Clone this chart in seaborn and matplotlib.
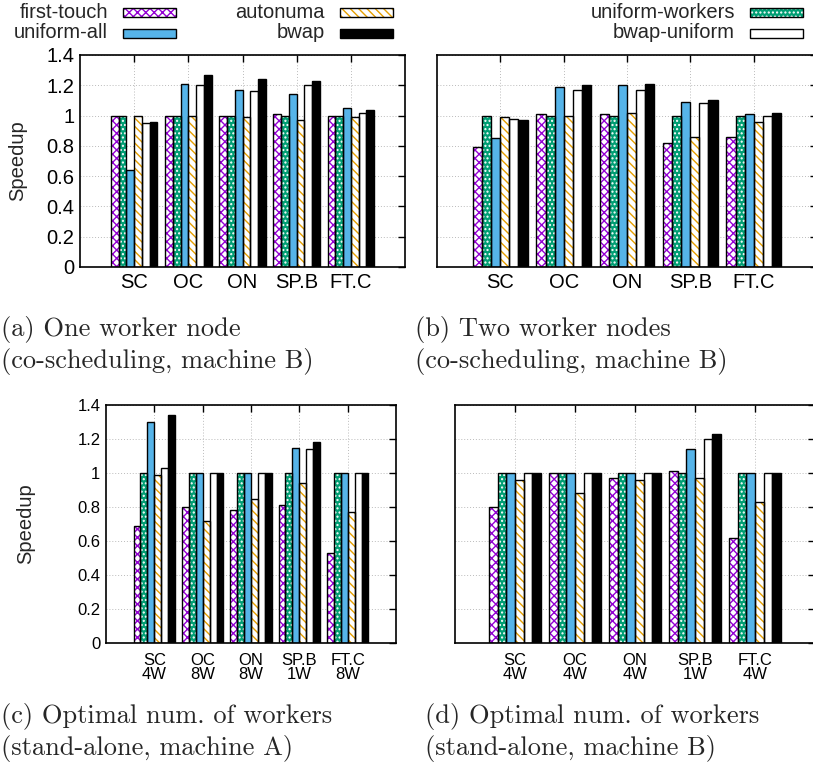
import numpy as np
import pandas as pd
import matplotlib
matplotlib.use("Agg")
import matplotlib.pyplot as plt
from matplotlib.patches import Rectangle
from matplotlib.ticker import FuncFormatter, MultipleLocator
import seaborn as sns

# ---------------- data ----------------
methods = ["first-touch", "uniform-workers", "uniform-all", "autonuma", "bwap-uniform", "bwap"]
apps_ab = ["SC", "OC", "ON", "SP.B", "FT.C"]
apps_c = ["SC\n4W", "OC\n8W", "ON\n8W", "SP.B\n1W", "FT.C\n8W"]
apps_d = ["SC\n4W", "OC\n4W", "ON\n4W", "SP.B\n1W", "FT.C\n4W"]

# (a) one worker node (co-scheduling, machine B)
a_first_touch = [1.00, 1.00, 1.00, 1.01, 1.00]
a_uniform_workers = [1.00, 1.00, 1.00, 1.00, 1.00]
a_uniform_all = [0.64, 1.21, 1.17, 1.14, 1.05]
a_autonuma = [1.00, 1.00, 0.99, 0.97, 0.99]
a_bwap_uniform = [0.95, 1.20, 1.16, 1.20, 1.02]
a_bwap = [0.96, 1.27, 1.24, 1.23, 1.04]

# (b) two worker nodes (co-scheduling, machine B)
b_first_touch = [0.79, 1.01, 1.01, 0.82, 0.86]
b_uniform_workers = [1.00, 1.00, 1.00, 1.00, 1.00]
b_uniform_all = [0.85, 1.19, 1.20, 1.09, 1.01]
b_autonuma = [0.99, 1.00, 1.02, 0.86, 0.96]
b_bwap_uniform = [0.98, 1.17, 1.17, 1.08, 1.00]
b_bwap = [0.97, 1.20, 1.21, 1.10, 1.02]

# (c) optimal num. of workers (stand-alone, machine A)
c_first_touch = [0.69, 0.80, 0.78, 0.81, 0.53]
c_uniform_workers = [1.00, 1.00, 1.00, 1.00, 1.00]
c_uniform_all = [1.30, 1.00, 1.00, 1.15, 1.00]
c_autonuma = [0.99, 0.72, 0.85, 0.94, 0.77]
c_bwap_uniform = [1.03, 1.00, 1.00, 1.14, 1.00]
c_bwap = [1.34, 1.00, 1.00, 1.18, 1.00]

# (d) optimal num. of workers (stand-alone, machine B)
d_first_touch = [0.80, 1.00, 0.97, 1.01, 0.62]
d_uniform_workers = [1.00, 1.00, 1.00, 1.00, 1.00]
d_uniform_all = [1.00, 1.00, 1.00, 1.14, 1.00]
d_autonuma = [0.96, 0.88, 0.96, 0.97, 0.83]
d_bwap_uniform = [1.00, 1.00, 1.00, 1.20, 1.00]
d_bwap = [1.00, 1.00, 1.00, 1.23, 1.00]

captions = [
    "(a) One worker node\n(co-scheduling, machine B)",
    "(b) Two worker nodes\n(co-scheduling, machine B)",
    "(c) Optimal num. of workers\n(stand-alone, machine A)",
    "(d) Optimal num. of workers\n(stand-alone, machine B)",
]

# ---------------- style ----------------
face = {"first-touch": "white", "uniform-workers": "#009e73", "uniform-all": "#56b4e9",
        "autonuma": "white", "bwap-uniform": "white", "bwap": "black"}
hatch_col = {"first-touch": "#9400d3", "uniform-workers": "white", "uniform-all": "#56b4e9",
             "autonuma": "#e69f00", "bwap-uniform": "white", "bwap": "black"}
hatch = {"first-touch": "xxxx", "uniform-workers": "....", "uniform-all": None,
         "autonuma": "\\\\\\\\", "bwap-uniform": None, "bwap": None}

sns.set_theme(style="white")
plt.rcParams["font.family"] = ["Liberation Sans", "DejaVu Sans"]
plt.rcParams["hatch.linewidth"] = 1.0

W, H = 813, 767
fig = plt.figure(figsize=(W / 100, H / 100), dpi=100)


def axrect(l, r, t, b):
    return [l / W, 1 - b / H, (r - l) / W, (b - t) / H]


def make_df(apps, series):
    rows = []
    for m, vals in zip(methods, series):
        for app, v in zip(apps, vals):
            rows.append({"app": app, "method": m, "speedup": v})
    return pd.DataFrame(rows)


def style_bars(ax):
    for cont, m in zip(ax.containers, methods):
        for p in cont:
            p.set_facecolor(face[m])
            p.set_edgecolor(hatch_col[m])
            p.set_hatch(hatch[m])
            p.set_linewidth(0)
            ax.add_patch(Rectangle((p.get_x(), p.get_y()), p.get_width(), p.get_height(),
                                   fill=False, edgecolor="black", linewidth=1.0,
                                   zorder=p.get_zorder() + 0.1))


panels = [
    (axrect(80, 405, 55, 267), apps_ab,
     [a_first_touch, a_uniform_workers, a_uniform_all, a_autonuma, a_bwap_uniform, a_bwap], True, 14.5, 4),
    (axrect(437, 817, 55, 267), apps_ab,
     [b_first_touch, b_uniform_workers, b_uniform_all, b_autonuma, b_bwap_uniform, b_bwap], False, 14.5, 4),
    (axrect(106, 396, 405, 643), apps_c,
     [c_first_touch, c_uniform_workers, c_uniform_all, c_autonuma, c_bwap_uniform, c_bwap], True, 12, 7),
    (axrect(455, 815, 405, 643), apps_d,
     [d_first_touch, d_uniform_workers, d_uniform_all, d_autonuma, d_bwap_uniform, d_bwap], False, 12, 7),
]

ylabel_x = [18, None, 26, None]

for i, (rect, apps, series, show_y, tfs, xpad) in enumerate(panels):
    ax = fig.add_axes(rect)
    df = make_df(apps, series)
    sns.barplot(data=df, x="app", y="speedup", hue="method", hue_order=methods,
                order=apps, width=0.86, gap=0, legend=False, ax=ax,
                err_kws={"linewidth": 0})
    style_bars(ax)
    ax.set_xlim(-1, 5)
    ax.set_ylim(0, 1.4)
    ax.yaxis.set_major_locator(MultipleLocator(0.2))
    ax.yaxis.set_major_formatter(FuncFormatter(lambda v, _: "%g" % round(v, 2)))
    ax.set_axisbelow(True)
    ax.grid(True, linestyle=(0, (1, 2)), color="#bbbbbb", linewidth=0.7)
    ax.tick_params(direction="in", top=True, right=True, length=5, width=1,
                   colors="black", labelsize=tfs, pad=4)
    ax.tick_params(axis="x", pad=xpad)
    for s in ax.spines.values():
        s.set_visible(True)
        s.set_color("black")
        s.set_linewidth(1.2)
    ax.set_xlabel("")
    for lab in ax.get_xticklabels():
        lab.set_linespacing(0.95)
    if show_y:
        ax.set_ylabel("Speedup", fontsize=14.5, va="center")
        l = rect[0] * W
        w = rect[2] * W
        ax.yaxis.set_label_coords((ylabel_x[i] - l) / w, 0.5)
    else:
        ax.set_ylabel("")
        ax.tick_params(labelleft=False)

# captions (two lines each)
cap_pos = [(1, 330), (415, 330), (1, 717), (425, 717)]
for (x, y), txt in zip(cap_pos, captions):
    line1, line2 = txt.split("\n")
    fig.text(x / W, 1 - y / H, line1, fontfamily="cmr10", fontsize=19, ha="left", va="center")
    fig.text(x / W, 1 - (y + 31) / H, line2, fontfamily="cmr10", fontsize=19, ha="left", va="center")

# legend (manual, three columns)
legend_layout = [
    ("first-touch", 108, 12), ("uniform-all", 108, 33),
    ("autonuma", 325, 12), ("bwap", 325, 33),
    ("uniform-workers", 735, 12), ("bwap-uniform", 735, 33),
]
for m, xr, yc in legend_layout:
    fig.text(xr / W, 1 - yc / H, m, ha="right", va="center", fontsize=14.5)
    x0 = (xr + 15) / W
    y0 = 1 - (yc + 5) / H
    w = 53 / W
    h = 9 / H
    fig.add_artist(Rectangle((x0, y0), w, h, transform=fig.transFigure,
                             facecolor=face[m], edgecolor=hatch_col[m], hatch=hatch[m], linewidth=0))
    fig.add_artist(Rectangle((x0, y0), w, h, transform=fig.transFigure,
                             fill=False, edgecolor="black", linewidth=1.0))

fig.savefig("out.png", dpi=100)
